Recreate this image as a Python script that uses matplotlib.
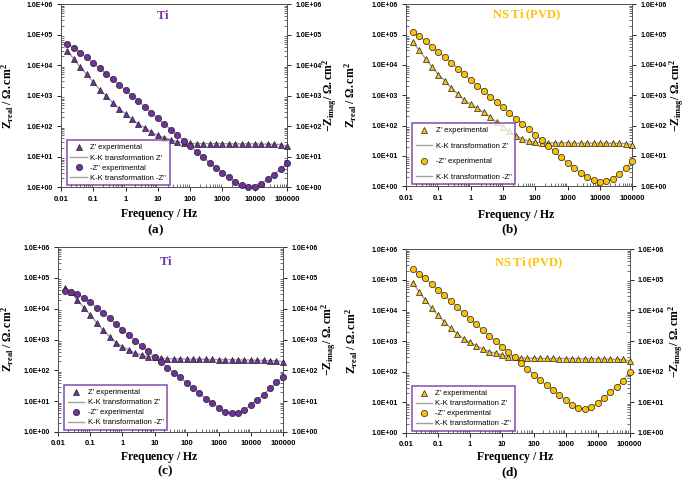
import matplotlib
matplotlib.use('Agg')
import matplotlib.pyplot as plt
from matplotlib.lines import Line2D
from matplotlib.ticker import LogLocator, FixedLocator, FixedFormatter, NullFormatter

plt.rcParams['font.family'] = ['Liberation Sans', 'DejaVu Sans']
plt.rcParams['mathtext.fontset'] = 'custom'
plt.rcParams['mathtext.rm'] = 'Liberation Serif'
plt.rcParams['mathtext.bf'] = 'Liberation Serif:bold'
plt.rcParams['mathtext.it'] = 'Liberation Serif:italic'

# 频率点 (Hz)
freq = [0.0158, 0.0251, 0.0398, 0.0631, 0.1, 0.158, 0.251, 0.398, 0.631, 1,
        1.58, 2.51, 3.98, 6.31, 10, 15.8, 25.1, 39.8, 63.1, 100,
        158, 251, 398, 631, 1000, 1580, 2510, 3980, 6310, 10000,
        15800, 25100, 39800, 63100, 100000]

# (a) Ti
zre_a = [2.9e4, 1.6e4, 8.7e3, 5.0e3, 2.8e3, 1.6e3, 980, 600, 375, 255,
         167, 117, 89, 64, 50, 42, 36, 31, 28.5, 27.5,
         27, 27, 27, 27, 27, 26.5, 26.5, 26.5, 26.5, 26.5,
         26, 26, 25.5, 25, 22]
zim_a = [5.1e4, 3.7e4, 2.6e4, 1.8e4, 1.2e4, 7.9e3, 5.3e3, 3.5e3, 2.3e3, 1.5e3,
         1.0e3, 665, 425, 277, 180, 120, 78, 51, 34, 22,
         14.7, 9.6, 6.4, 4.4, 3.0, 2.1, 1.5, 1.17, 1.0, 1.05,
         1.3, 1.8, 2.6, 4.0, 6.2]

# (b) NS Ti (PVD)
zre_b = [5.8e4, 3.1e4, 1.6e4, 8.7e3, 4.7e3, 3.0e3, 1.7e3, 1.1e3, 700, 505,
         370, 275, 190, 127, 89, 64, 47, 36, 31, 28,
         27.5, 27, 27, 27, 27, 26.5, 26.5, 26.5, 26.5, 26.5,
         26.5, 26, 26, 25.5, 23.5]
zim_b = [1.24e5, 8.9e4, 6.1e4, 4.0e4, 2.7e4, 1.8e4, 1.2e4, 7.6e3, 5.0e3, 3.2e3,
         2.1e3, 1.4e3, 910, 600, 400, 255, 170, 114, 76, 50,
         33, 22, 14, 9.1, 6.0, 4.1, 2.8, 2.0, 1.6, 1.4,
         1.45, 1.8, 2.5, 3.9, 6.6]

# (c) Ti
zre_c = [4.9e4, 3.6e4, 1.9e4, 1.1e4, 6.3e3, 3.5e3, 2.0e3, 1.25e3, 800, 590,
         465, 360, 320, 280, 270, 250, 240, 238, 236, 234,
         232, 230, 228, 226, 225, 224, 222, 220, 218, 216,
         214, 212, 208, 205, 190]
zim_c = [3.8e4, 3.5e4, 3.0e4, 2.3e4, 1.65e4, 1.1e4, 7.5e3, 4.9e3, 3.2e3, 2.1e3,
         1.4e3, 930, 620, 415, 270, 185, 124, 83, 59, 40,
         27, 18, 12, 8.8, 6.2, 4.6, 4.0, 4.2, 5.3, 7.4,
         11, 16.5, 26, 41, 62]

# (d) NS Ti (PVD)
zre_d = [8.1e4, 4.1e4, 2.2e4, 1.17e4, 6.9e3, 4.2e3, 2.6e3, 1.7e3, 1.2e3, 900,
         710, 550, 450, 400, 350, 310, 295, 280, 275, 275,
         272, 270, 270, 268, 268, 266, 265, 265, 264, 262,
         260, 258, 255, 250, 225]
zim_d = [2.3e5, 1.6e5, 1.1e5, 7.2e4, 4.8e4, 3.1e4, 2.0e4, 1.3e4, 8.3e3, 5.4e3,
         3.5e3, 2.3e3, 1.5e3, 1.0e3, 650, 425, 295, 190, 125, 80,
         53, 36, 25, 17, 11.6, 8.2, 6.3, 6.0, 7.0, 9.2,
         13.8, 21, 32, 50, 100]

panels = [
    ('Ti', '(a)', zre_a, zim_a),
    ('NS Ti (PVD)', '(b)', zre_b, zim_b),
    ('Ti', '(c)', zre_c, zim_c),
    ('NS Ti (PVD)', '(d)', zre_d, zim_d),
]

PURPLE = '#7030A0'
GOLD = '#FFC000'
KK_GRAY = '#a0a0a0'

# 轴位置 [left, bottom, width, height]
axes_pos = [
    [0.089, 0.610, 0.330, 0.381],
    [0.593, 0.612, 0.330, 0.379],
    [0.085, 0.100, 0.328, 0.385],
    [0.593, 0.098, 0.326, 0.383],
]
title_pos = [(0.45, 0.94), (0.535, 0.94), (0.48, 0.925), (0.547, 0.925)]
xlabel_pos = [(0.434, -0.11), (0.487, -0.12), (0.45, -0.1), (0.49, -0.095)]
tag_pos = [(0.416, -0.235), (0.46, -0.24), (0.475, -0.215), (0.466, -0.22)]
ylabel_x = [-0.2, -0.21, -0.19, -0.206]
y2label_x = [1.15, 1.158, 1.165, 1.168]
legend_spacing = [0.35, 1.05, 0.35, 0.35]

xticks = [0.01, 0.1, 1, 10, 100, 1000, 10000, 100000]
xticklabels = ['0.01', '0.1', '1', '10', '100', '1000', '10000', '100000']
yticks = [1, 10, 100, 1e3, 1e4, 1e5, 1e6]
yticklabels = ['1.0E+00', '1.0E+01', '1.0E+02', '1.0E+03', '1.0E+04', '1.0E+05', '1.0E+06']

fig = plt.figure(figsize=(6.85, 4.8), dpi=100)

for i, (title, tag, zre, zim) in enumerate(panels):
    color = PURPLE if title == 'Ti' else GOLD
    ax = fig.add_axes(axes_pos[i])
    ax2 = ax.twinx()

    # K-K 变换曲线
    ax.plot(freq, zre, color=KK_GRAY, lw=1.0, zorder=2)
    ax.plot(freq, zim, color=KK_GRAY, lw=1.0, zorder=2)
    # 实验数据点
    ax.plot(freq, zre, ls='none', marker='^', ms=4, mfc=color, mec='#222222',
            mew=0.5, zorder=3, clip_on=False)
    ax.plot(freq, zim, ls='none', marker='o', ms=4.5, mfc=color, mec='#222222',
            mew=0.5, zorder=3, clip_on=False)

    for a in (ax, ax2):
        a.set_xscale('log')
        a.set_yscale('log')
        a.set_xlim(0.01, 100000)
        a.set_ylim(1, 1e6)
        a.yaxis.set_major_locator(FixedLocator(yticks))
        a.yaxis.set_major_formatter(FixedFormatter(yticklabels))
        a.yaxis.set_minor_locator(LogLocator(base=10, subs=range(2, 10), numticks=20))
        a.yaxis.set_minor_formatter(NullFormatter())
        a.tick_params(axis='y', which='major', direction='out', length=3, width=0.6,
                      labelsize=5, pad=3)
        a.tick_params(axis='y', which='minor', direction='in', length=2, width=0.4)
        for lbl in a.get_yticklabels():
            lbl.set_fontweight('bold')
        for s in a.spines.values():
            s.set_linewidth(0.7)
            s.set_color('#555555')

    ax.xaxis.set_major_locator(FixedLocator(xticks))
    ax.xaxis.set_major_formatter(FixedFormatter(xticklabels))
    ax.xaxis.set_minor_locator(LogLocator(base=10, subs=range(2, 10), numticks=20))
    ax.xaxis.set_minor_formatter(NullFormatter())
    ax.tick_params(axis='x', which='major', direction='out', length=3, width=0.6,
                   labelsize=5.5, pad=3)
    ax.tick_params(axis='x', which='minor', direction='in', length=2, width=0.4)
    for lbl in ax.get_xticklabels():
        lbl.set_fontweight('bold')

    ax.set_xlabel(r'$\mathbf{Frequency\ /\ Hz}$', fontsize=8.5)
    ax.xaxis.set_label_coords(*xlabel_pos[i])
    ax.set_ylabel(r'$\mathbf{Z_{real}\ /\ \Omega.cm^2}$', fontsize=8.5)
    ax.yaxis.set_label_coords(ylabel_x[i], 0.5)
    ax2.set_ylabel(r'$\mathbf{-Z_{imag}/\ \Omega.cm^2}$', fontsize=8.5)
    ax2.yaxis.set_label_coords(y2label_x[i], 0.5)

    ax.text(title_pos[i][0], title_pos[i][1], r'$\mathbf{' + title.replace(' ', r'\ ') + '}$',
            transform=ax.transAxes, ha='center', va='center', color=color, fontsize=9)
    ax.text(tag_pos[i][0], tag_pos[i][1], r'$\mathbf{' + tag + '}$',
            transform=ax.transAxes, ha='center', va='center', fontsize=9.5)

    handles = [
        Line2D([], [], ls='none', marker='^', ms=4, mfc=color, mec='#222222', mew=0.5),
        Line2D([], [], color=KK_GRAY, lw=1.0),
        Line2D([], [], ls='none', marker='o', ms=4.5, mfc=color, mec='#222222', mew=0.5),
        Line2D([], [], color=KK_GRAY, lw=1.0),
    ]
    labels = ["Z' experimental", "K-K transformation Z'",
              "-Z'' experimental", "K-K transformation -Z''"]
    leg = ax.legend(handles, labels, loc='lower left', bbox_to_anchor=(0.025, 0.01),
                    fontsize=5.5, frameon=True, fancybox=False, handlelength=2.2,
                    handletextpad=0.4, labelspacing=legend_spacing[i],
                    borderpad=0.5, borderaxespad=0.0)
    leg.get_frame().set_edgecolor(PURPLE)
    leg.get_frame().set_linewidth(1.2)
    ax.set_zorder(ax2.get_zorder() + 1)
    ax.patch.set_visible(False)

fig.savefig('out.png', dpi=100)
